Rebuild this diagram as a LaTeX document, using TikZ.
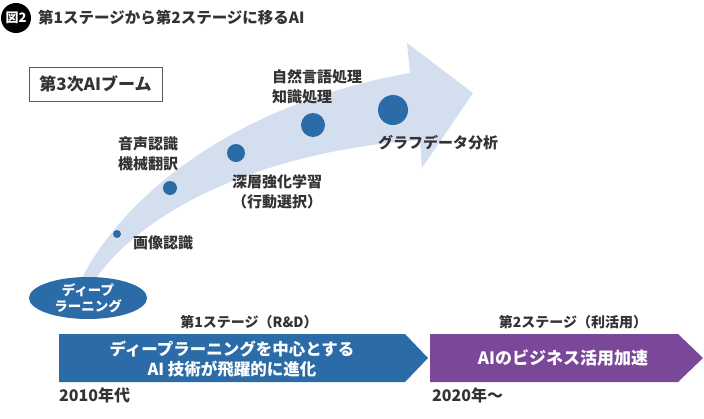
\documentclass[tikz,border=0pt]{standalone}
\usepackage{fontspec}
\setmainfont{Noto Sans CJK JP}
\usetikzlibrary{shapes.geometric}

\begin{document}
\begin{tikzpicture}[x=1pt,y=-1pt,font=\bfseries]
  \definecolor{db}{HTML}{2B6CA8}
  \definecolor{lb}{HTML}{D3DEEF}
  \definecolor{pu}{HTML}{7B4799}
  \definecolor{tx}{HTML}{333333}
  \tikzset{
    lbl/.style={anchor=west,inner sep=0pt,align=left,text=tx,font=\bfseries\fontsize{15}{20}\selectfont},
    head/.style={inner sep=0pt,text=tx,font=\bfseries\fontsize{14}{14}\selectfont},
    band/.style={inner sep=0pt,align=center,text=white,font=\bfseries\fontsize{16.5}{20}\selectfont}
  }
  \useasboundingbox (0,0) rectangle (704,418);
  % title
  \node[circle,fill=black,minimum size=30pt,inner sep=0pt,text=white,font=\bfseries\fontsize{13}{13}\selectfont] (fig) at (16,18) {図2};
  \node[anchor=west,inner sep=0pt,text=tx,font=\bfseries\fontsize{15.5}{16}\selectfont] (title) at (38,18) {第1ステージから第2ステージに移るAI};
  % boom box
  \node[draw=black!65,line width=1pt,minimum width=133pt,minimum height=34pt,inner sep=0pt,text=tx,font=\bfseries\fontsize{17}{17}\selectfont] (boom) at (95.5,84) {第3次AIブーム};
  % big arrow
  \fill[lb] (80,282) .. controls (120,200) and (230,105) .. (410,73) -- (407,43) -- (473,93)
    -- (422,168) -- (420,140) .. controls (280,150) and (150,200) .. (93,282) -- cycle;
  \foreach \x/\y/\r in {117/234/4,170/188/7,236/153/9,313/125/12,393/110/15}
    \fill[db] (\x,\y) circle (\r);
  % labels
  \node[lbl] (image) at (133,243) {画像認識};
  \node[lbl] (speech) at (118,154) {音声認識\\機械翻訳};
  \node[lbl] (rl) at (232,192) {深層強化学習\\（行動選択）};
  \node[lbl] (nlp) at (272,87) {自然言語処理\\知識処理};
  \node[lbl] (graph) at (378,143) {グラフデータ分析};
  \node[ellipse,fill=db,minimum width=118pt,minimum height=42pt,inner sep=0pt,align=center,text=white,font=\bfseries\fontsize{13.5}{16}\selectfont] (deep) at (88,298) {ディープ\\ラーニング};
  % stages
  \node[head] (headone) at (249,322) {第1ステージ（R\&D）};
  \fill[db] (59,334) -- (405,334) -- (428,358) -- (405,382) -- (59,382) -- cycle;
  \node[band] (stageone) at (232,359) {ディープラーニングを中心とする\\AI 技術が飛躍的に進化};
  \node[head] (headtwo) at (573,322) {第2ステージ（利活用）};
  \fill[pu] (430,334) -- (678,334) -- (703,358) -- (678,382) -- (430,382) -- cycle;
  \node[band,font=\bfseries\fontsize{17}{20}\selectfont] (stagetwo) at (563,358) {AIのビジネス活用加速};
  \node[head,anchor=west,font=\bfseries\fontsize{16}{16}\selectfont] (yearone) at (59,395) {2010年代};
  \node[head,anchor=west,font=\bfseries\fontsize{16}{16}\selectfont] (yeartwo) at (432,395) {2020年～};
\end{tikzpicture}
\end{document}
